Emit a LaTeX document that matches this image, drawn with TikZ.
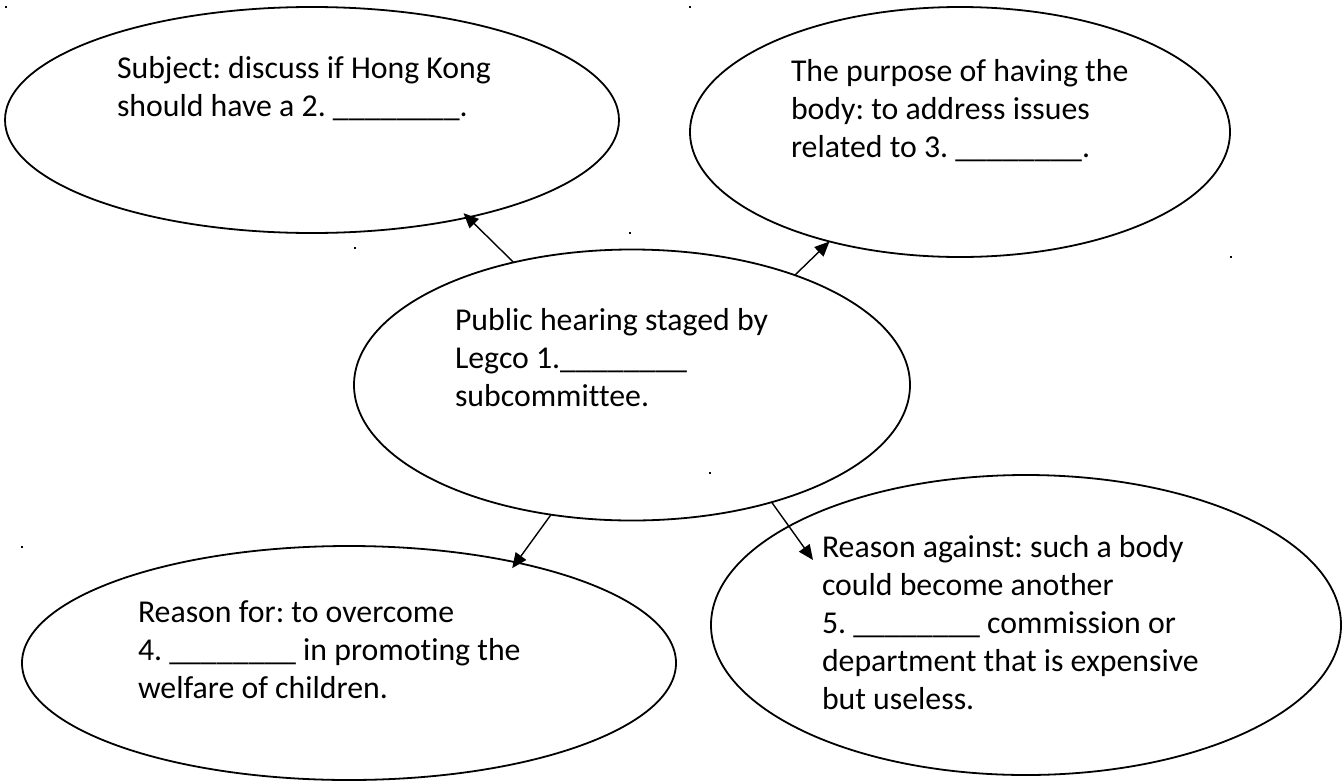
\documentclass[tikz,border=0pt]{standalone}
\usepackage{fontspec}
\setmainfont{Carlito}[Ligatures=NoCommon]
\usetikzlibrary{shapes.geometric,arrows.meta}
\begin{document}
\begin{tikzpicture}[x=1pt,y=-1pt,
  bubble/.style={draw=black, ellipse, line width=1.8pt, inner sep=0pt, outer sep=0pt},
  txt/.style={anchor=north west, align=left, inner sep=0pt, outer sep=0pt, font=\fontsize{31.8}{38}\selectfont\frenchspacing},
  link/.style={draw=black, line width=1.4pt, -{Triangle[length=15pt,width=13pt]}},
  speck/.style={fill=black, rectangle, inner sep=0pt, minimum size=2.4pt}]
\useasboundingbox (0,0) rectangle (1343,782);
\fill[white] (0,0) rectangle (1343,782);

% bubbles
\node[bubble, minimum width=614pt, minimum height=226pt] (tl) at (312,120) {};
\node[bubble, minimum width=540pt, minimum height=250pt] (tr) at (960,132) {};
\node[bubble, minimum width=556pt, minimum height=271pt] (c) at (632,385) {};
\node[bubble, minimum width=654pt, minimum height=234pt] (bl) at (349,663) {};
\node[bubble, minimum width=630pt, minimum height=300pt] (br) at (1026,625) {};

% texts
\node[txt] (tlt) at (117,51.4) {\strut Subject: discuss if Hong Kong\\should have a 2. \_\_\_\_\_\_\_\_.};
\node[txt] (trt) at (791,54.4) {\strut The purpose of having the\\body: to address issues\\related to 3. \_\_\_\_\_\_\_\_.};
\node[txt] (ct) at (455,303.4) {\strut Public hearing staged by\\Legco 1.\_\_\_\_\_\_\_\_\\subcommittee.};
\node[txt] (blt) at (138,595.4) {\strut Reason for: to overcome\\4. \_\_\_\_\_\_\_\_ in promoting the\\welfare of children.};
\node[txt] (brt) at (822,530.4) {\strut Reason against: such a body\\could become another\\5. \_\_\_\_\_\_\_\_ commission or\\department that is expensive\\but useless.};

% connectors
\coordinate (brtip) at (813,560);
\draw[link, shorten >=-6pt] (c.134) -- (tl.-32);
\draw[link] (c.34) -- (tr.-140);
\draw[link, shorten >=-7pt] (c.238) -- (bl.31);
\draw[link] (c.-40) -- (brtip);

% stray specks
\node[speck] (d1) at (6,7) {};
\node[speck] (d2) at (690,7) {};
\node[speck] (d3) at (355,248) {};
\node[speck] (d4) at (630,233) {};
\node[speck] (d5) at (1231,257) {};
\node[speck] (d6) at (710,473) {};
\node[speck] (d7) at (22,547) {};
\end{tikzpicture}
\end{document}
